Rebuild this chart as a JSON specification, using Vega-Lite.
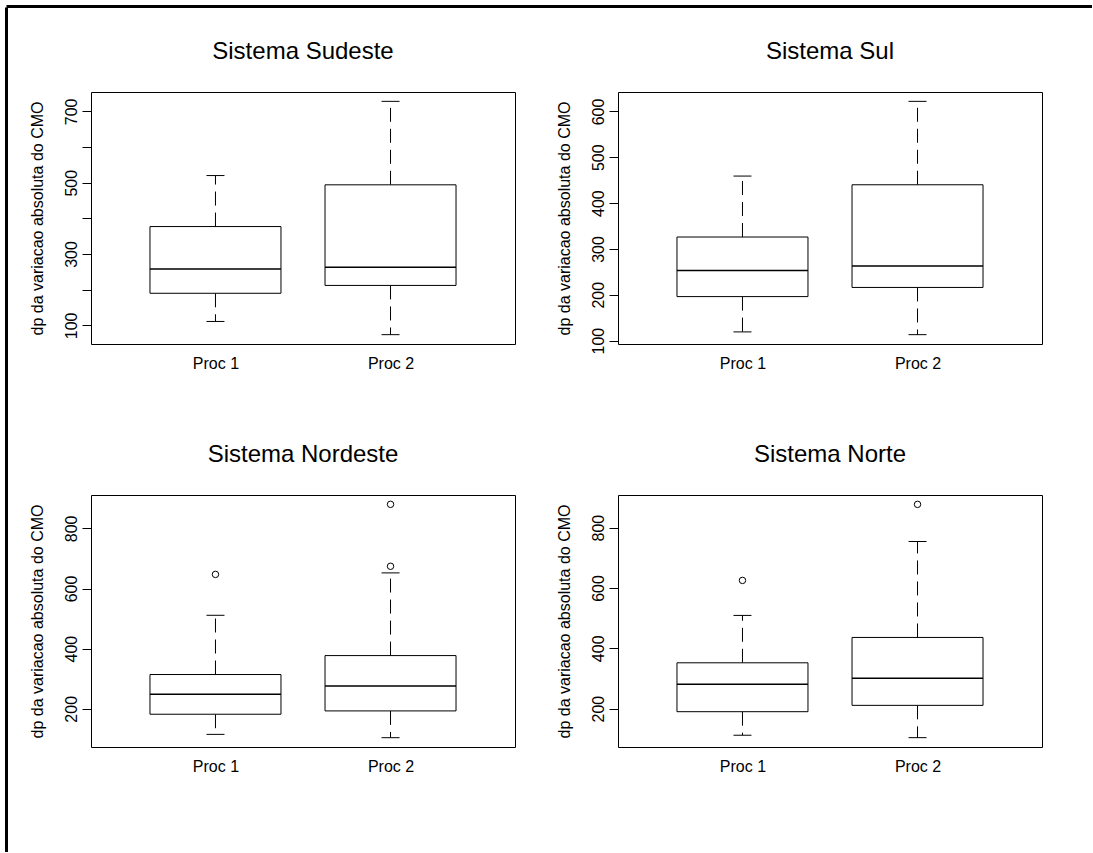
{
  "$schema": "https://vega.github.io/schema/vega-lite/v6.json",
  "background": "white",
  "padding": {"left": 6, "top": 6, "right": 0, "bottom": 0},
  "config": {
    "font": "Liberation Sans",
    "view": {"stroke": "black", "strokeWidth": 1},
    "title": {"font": "Liberation Sans", "fontSize": 24, "fontWeight": "normal", "color": "black", "anchor": "middle", "frame": "group", "offset": 28, "baseline": "alphabetic"},
    "axis": {"labelFont": "Liberation Sans", "titleFont": "Liberation Sans", "labelColor": "black", "titleColor": "black", "titleFontWeight": "normal", "labelFontSize": 16, "titleFontSize": 16, "grid": false, "domain": false, "tickColor": "black", "tickWidth": 1},
    "axisX": {"ticks": false, "tickSize": 0, "labelPadding": 24, "labelBaseline": "alphabetic", "labelAngle": 0},
    "axisY": {"tickSize": 9, "labelPadding": 6, "labelAngle": -90, "labelAlign": "center", "labelBaseline": "alphabetic", "titlePadding": 18, "labelOverlap": false}
  },
  "datasets": {
    "caixas": [
      {"sistema": "Sudeste", "proc": "Proc 1", "inf": 111, "q1": 190, "mediana": 258, "q3": 377, "sup": 520},
      {"sistema": "Sudeste", "proc": "Proc 2", "inf": 74, "q1": 212, "mediana": 263, "q3": 494, "sup": 728},
      {"sistema": "Sul", "proc": "Proc 1", "inf": 119, "q1": 196, "mediana": 253, "q3": 326, "sup": 459},
      {"sistema": "Sul", "proc": "Proc 2", "inf": 113, "q1": 216, "mediana": 263, "q3": 440, "sup": 622},
      {"sistema": "Nordeste", "proc": "Proc 1", "inf": 115, "q1": 182, "mediana": 248, "q3": 314, "sup": 511},
      {"sistema": "Nordeste", "proc": "Proc 2", "inf": 104, "q1": 193, "mediana": 276, "q3": 377, "sup": 652},
      {"sistema": "Norte", "proc": "Proc 1", "inf": 112, "q1": 190, "mediana": 281, "q3": 352, "sup": 509},
      {"sistema": "Norte", "proc": "Proc 2", "inf": 104, "q1": 211, "mediana": 301, "q3": 436, "sup": 754}
    ],
    "atipicos": [
      {"sistema": "Nordeste", "proc": "Proc 1", "valor": 647},
      {"sistema": "Nordeste", "proc": "Proc 2", "valor": 880},
      {"sistema": "Nordeste", "proc": "Proc 2", "valor": 674},
      {"sistema": "Norte", "proc": "Proc 1", "valor": 625},
      {"sistema": "Norte", "proc": "Proc 2", "valor": 877}
    ]
  },
  "spacing": 0,
  "vconcat": [
    {
      "data": {"values": []},
      "mark": "point",
      "width": 1086,
      "height": 0.01,
      "view": {"stroke": null},
      "encoding": {
        "x": {"field": "borda", "type": "quantitative", "scale": {"domain": [0, 1]},
              "axis": {"orient": "top", "domain": true, "domainWidth": 3, "domainColor": "black", "domainCap": "butt", "ticks": false, "labels": false, "title": null, "minExtent": 0, "maxExtent": 0}}
      }
    },
    {
      "spacing": 21,
      "hconcat": [
        {
          "data": {"values": []},
          "mark": "point",
          "width": 0.01,
          "height": 845,
          "view": {"stroke": null},
          "encoding": {
            "y": {"field": "borda", "type": "quantitative", "scale": {"domain": [0, 1]},
                  "axis": {"orient": "left", "domain": true, "domainWidth": 3, "domainColor": "black", "domainCap": "butt", "ticks": false, "labels": false, "title": null, "minExtent": 0, "maxExtent": 0}}
          }
        },
        {
          "spacing": 0,
          "vconcat": [
            {
              "data": {"values": []},
              "mark": "point",
              "width": 1,
              "height": 32,
              "view": {"stroke": null}
            },
            {
              "spacing": 70,
              "vconcat": [
                {
                  "spacing": 39,
                  "hconcat": [
                    {
                      "title": {"text": "Sistema Sudeste"},
                      "width": 424,
                      "height": 252,
                      "data": {"name": "caixas"},
                      "transform": [{"filter": "datum.sistema === 'Sudeste'"}],
                      "encoding": {
                        "x": {"field": "proc", "type": "nominal", "title": null, "sort": ["Proc 1", "Proc 2"], "scale": {"type": "point", "padding": 0.711}}
                      },
                      "layer": [
                        {"mark": {"type": "rule", "color": "black", "strokeWidth": 1, "strokeDash": [14, 7]},
                         "encoding": {"y": {"field": "q3", "type": "quantitative", "title": "dp da variacao absoluta do CMO", "scale": {"domain": [47.8, 754.2], "nice": false, "zero": false}, "axis": {"values": [100, 200, 300, 400, 500, 600, 700], "labelExpr": "datum.value % 200 === 100 ? datum.label : ''"}}, "y2": {"field": "sup"}}},
                        {"mark": {"type": "rule", "color": "black", "strokeWidth": 1, "strokeDash": [14, 7]},
                         "encoding": {"y": {"field": "q1", "type": "quantitative", "title": "dp da variacao absoluta do CMO", "scale": {"domain": [47.8, 754.2], "nice": false, "zero": false}}, "y2": {"field": "inf"}}},
                        {"mark": {"type": "bar", "size": 131, "fill": "white", "stroke": "black", "strokeWidth": 1},
                         "encoding": {"y": {"field": "q1", "type": "quantitative", "title": "dp da variacao absoluta do CMO", "scale": {"domain": [47.8, 754.2], "nice": false, "zero": false}}, "y2": {"field": "q3"}}},
                        {"mark": {"type": "tick", "size": 131, "thickness": 1.5, "color": "black", "opacity": 1},
                         "encoding": {"y": {"field": "mediana", "type": "quantitative", "title": "dp da variacao absoluta do CMO", "scale": {"domain": [47.8, 754.2], "nice": false, "zero": false}}}},
                        {"mark": {"type": "tick", "size": 18, "thickness": 1, "color": "black", "opacity": 1},
                         "encoding": {"y": {"field": "sup", "type": "quantitative", "title": "dp da variacao absoluta do CMO", "scale": {"domain": [47.8, 754.2], "nice": false, "zero": false}}}},
                        {"mark": {"type": "tick", "size": 18, "thickness": 1, "color": "black", "opacity": 1},
                         "encoding": {"y": {"field": "inf", "type": "quantitative", "title": "dp da variacao absoluta do CMO", "scale": {"domain": [47.8, 754.2], "nice": false, "zero": false}}}}
                      ]
                    },
                    {
                      "title": {"text": "Sistema Sul"},
                      "width": 424,
                      "height": 252,
                      "data": {"name": "caixas"},
                      "transform": [{"filter": "datum.sistema === 'Sul'"}],
                      "encoding": {
                        "x": {"field": "proc", "type": "nominal", "title": null, "sort": ["Proc 1", "Proc 2"], "scale": {"type": "point", "padding": 0.711}}
                      },
                      "layer": [
                        {"mark": {"type": "rule", "color": "black", "strokeWidth": 1, "strokeDash": [14, 7]},
                         "encoding": {"y": {"field": "q3", "type": "quantitative", "title": "dp da variacao absoluta do CMO", "scale": {"domain": [92.6, 642.4], "nice": false, "zero": false}, "axis": {"values": [100, 200, 300, 400, 500, 600]}}, "y2": {"field": "sup"}}},
                        {"mark": {"type": "rule", "color": "black", "strokeWidth": 1, "strokeDash": [14, 7]},
                         "encoding": {"y": {"field": "q1", "type": "quantitative", "title": "dp da variacao absoluta do CMO", "scale": {"domain": [92.6, 642.4], "nice": false, "zero": false}}, "y2": {"field": "inf"}}},
                        {"mark": {"type": "bar", "size": 131, "fill": "white", "stroke": "black", "strokeWidth": 1},
                         "encoding": {"y": {"field": "q1", "type": "quantitative", "title": "dp da variacao absoluta do CMO", "scale": {"domain": [92.6, 642.4], "nice": false, "zero": false}}, "y2": {"field": "q3"}}},
                        {"mark": {"type": "tick", "size": 131, "thickness": 1.5, "color": "black", "opacity": 1},
                         "encoding": {"y": {"field": "mediana", "type": "quantitative", "title": "dp da variacao absoluta do CMO", "scale": {"domain": [92.6, 642.4], "nice": false, "zero": false}}}},
                        {"mark": {"type": "tick", "size": 18, "thickness": 1, "color": "black", "opacity": 1},
                         "encoding": {"y": {"field": "sup", "type": "quantitative", "title": "dp da variacao absoluta do CMO", "scale": {"domain": [92.6, 642.4], "nice": false, "zero": false}}}},
                        {"mark": {"type": "tick", "size": 18, "thickness": 1, "color": "black", "opacity": 1},
                         "encoding": {"y": {"field": "inf", "type": "quantitative", "title": "dp da variacao absoluta do CMO", "scale": {"domain": [92.6, 642.4], "nice": false, "zero": false}}}}
                      ]
                    }
                  ]
                },
                {
                  "spacing": 39,
                  "hconcat": [
                    {
                      "title": {"text": "Sistema Nordeste"},
                      "width": 424,
                      "height": 252,
                      "data": {"name": "caixas"},
                      "transform": [{"filter": "datum.sistema === 'Nordeste'"}],
                      "encoding": {
                        "x": {"field": "proc", "type": "nominal", "title": null, "sort": ["Proc 1", "Proc 2"], "scale": {"type": "point", "padding": 0.711}}
                      },
                      "layer": [
                        {"mark": {"type": "rule", "color": "black", "strokeWidth": 1, "strokeDash": [14, 7]},
                         "encoding": {"y": {"field": "q3", "type": "quantitative", "title": "dp da variacao absoluta do CMO", "scale": {"domain": [73, 911], "nice": false, "zero": false}, "axis": {"values": [200, 400, 600, 800]}}, "y2": {"field": "sup"}}},
                        {"mark": {"type": "rule", "color": "black", "strokeWidth": 1, "strokeDash": [14, 7]},
                         "encoding": {"y": {"field": "q1", "type": "quantitative", "title": "dp da variacao absoluta do CMO", "scale": {"domain": [73, 911], "nice": false, "zero": false}}, "y2": {"field": "inf"}}},
                        {"mark": {"type": "bar", "size": 131, "fill": "white", "stroke": "black", "strokeWidth": 1},
                         "encoding": {"y": {"field": "q1", "type": "quantitative", "title": "dp da variacao absoluta do CMO", "scale": {"domain": [73, 911], "nice": false, "zero": false}}, "y2": {"field": "q3"}}},
                        {"mark": {"type": "tick", "size": 131, "thickness": 1.5, "color": "black", "opacity": 1},
                         "encoding": {"y": {"field": "mediana", "type": "quantitative", "title": "dp da variacao absoluta do CMO", "scale": {"domain": [73, 911], "nice": false, "zero": false}}}},
                        {"mark": {"type": "tick", "size": 18, "thickness": 1, "color": "black", "opacity": 1},
                         "encoding": {"y": {"field": "sup", "type": "quantitative", "title": "dp da variacao absoluta do CMO", "scale": {"domain": [73, 911], "nice": false, "zero": false}}}},
                        {"mark": {"type": "tick", "size": 18, "thickness": 1, "color": "black", "opacity": 1},
                         "encoding": {"y": {"field": "inf", "type": "quantitative", "title": "dp da variacao absoluta do CMO", "scale": {"domain": [73, 911], "nice": false, "zero": false}}}},
                        {"data": {"name": "atipicos"},
                         "transform": [{"filter": "datum.sistema === 'Nordeste'"}],
                         "mark": {"type": "point", "shape": "circle", "filled": false, "size": 42, "stroke": "black", "strokeWidth": 1, "opacity": 1},
                         "encoding": {"y": {"field": "valor", "type": "quantitative", "title": "dp da variacao absoluta do CMO", "scale": {"domain": [73, 911], "nice": false, "zero": false}}}}
                      ]
                    },
                    {
                      "title": {"text": "Sistema Norte"},
                      "width": 424,
                      "height": 252,
                      "data": {"name": "caixas"},
                      "transform": [{"filter": "datum.sistema === 'Norte'"}],
                      "encoding": {
                        "x": {"field": "proc", "type": "nominal", "title": null, "sort": ["Proc 1", "Proc 2"], "scale": {"type": "point", "padding": 0.711}}
                      },
                      "layer": [
                        {"mark": {"type": "rule", "color": "black", "strokeWidth": 1, "strokeDash": [14, 7]},
                         "encoding": {"y": {"field": "q3", "type": "quantitative", "title": "dp da variacao absoluta do CMO", "scale": {"domain": [73, 908], "nice": false, "zero": false}, "axis": {"values": [200, 400, 600, 800]}}, "y2": {"field": "sup"}}},
                        {"mark": {"type": "rule", "color": "black", "strokeWidth": 1, "strokeDash": [14, 7]},
                         "encoding": {"y": {"field": "q1", "type": "quantitative", "title": "dp da variacao absoluta do CMO", "scale": {"domain": [73, 908], "nice": false, "zero": false}}, "y2": {"field": "inf"}}},
                        {"mark": {"type": "bar", "size": 131, "fill": "white", "stroke": "black", "strokeWidth": 1},
                         "encoding": {"y": {"field": "q1", "type": "quantitative", "title": "dp da variacao absoluta do CMO", "scale": {"domain": [73, 908], "nice": false, "zero": false}}, "y2": {"field": "q3"}}},
                        {"mark": {"type": "tick", "size": 131, "thickness": 1.5, "color": "black", "opacity": 1},
                         "encoding": {"y": {"field": "mediana", "type": "quantitative", "title": "dp da variacao absoluta do CMO", "scale": {"domain": [73, 908], "nice": false, "zero": false}}}},
                        {"mark": {"type": "tick", "size": 18, "thickness": 1, "color": "black", "opacity": 1},
                         "encoding": {"y": {"field": "sup", "type": "quantitative", "title": "dp da variacao absoluta do CMO", "scale": {"domain": [73, 908], "nice": false, "zero": false}}}},
                        {"mark": {"type": "tick", "size": 18, "thickness": 1, "color": "black", "opacity": 1},
                         "encoding": {"y": {"field": "inf", "type": "quantitative", "title": "dp da variacao absoluta do CMO", "scale": {"domain": [73, 908], "nice": false, "zero": false}}}},
                        {"data": {"name": "atipicos"},
                         "transform": [{"filter": "datum.sistema === 'Norte'"}],
                         "mark": {"type": "point", "shape": "circle", "filled": false, "size": 42, "stroke": "black", "strokeWidth": 1, "opacity": 1},
                         "encoding": {"y": {"field": "valor", "type": "quantitative", "title": "dp da variacao absoluta do CMO", "scale": {"domain": [73, 908], "nice": false, "zero": false}}}}
                      ]
                    }
                  ]
                }
              ]
            }
          ]
        }
      ]
    }
  ]
}
